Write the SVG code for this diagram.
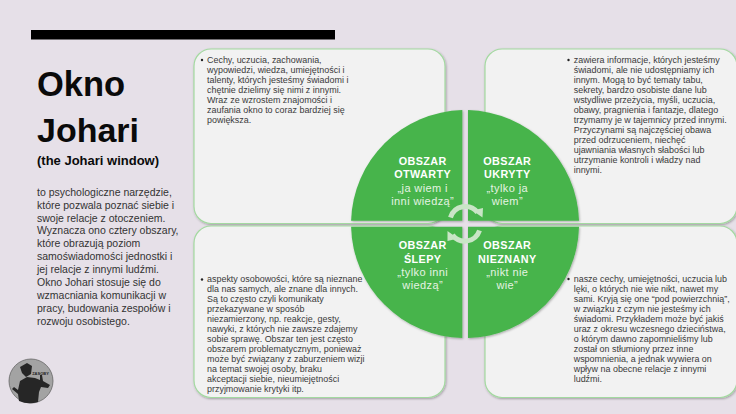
<svg xmlns="http://www.w3.org/2000/svg" width="736" height="414" viewBox="0 0 736 414">
<style>
text{font-family:"Liberation Sans",Arial,sans-serif}
.card{fill:#f2f2f2;stroke:#a3d9a0;stroke-width:1.2;filter:url(#s)}
.q{fill:#47b44b;filter:url(#s)}
.t{font-size:8.95px;fill:#3a3a3a}
.l{font-size:10.5px;fill:#333}
.h{font-weight:700;fill:#0a0a0a}
.b{font-size:10.8px;font-weight:700;fill:#fff;text-anchor:middle;letter-spacing:.4px}
.n{font-size:11px;fill:#e4f3e2;text-anchor:middle;letter-spacing:.4px}
.a{fill:none;stroke:#c9e5c6;stroke-width:5}
.ah{fill:#c9e5c6}
</style>
<defs><filter id="s" x="-5%" y="-5%" width="110%" height="110%"><feDropShadow dx="0.8" dy="1" stdDeviation="1" flood-color="#000" flood-opacity=".3"/></filter></defs>
<rect width="736" height="414" fill="#e6e0e8"/>
<rect x="31" y="30" width="304" height="9.500" fill="#000"/>
<g id="title">
<text class="h" x="37" y="96" font-size="34.500">Okno</text>
<text class="h" x="37" y="142" font-size="34">Johari</text>
<text class="h" x="37" y="165" font-size="13">(the Johari window)</text>
</g>
<g id="intro" class="l">
<text x="37" y="195.700">to psychologiczne narzędzie,</text>
<text x="37" y="208.600">które pozwala poznać siebie i</text>
<text x="37" y="221.500">swoje relacje z otoczeniem.</text>
<text x="37" y="234.400">Wyznacza ono cztery obszary,</text>
<text x="37" y="247.300">które obrazują poziom</text>
<text x="37" y="260.200">samoświadomości jednostki i</text>
<text x="37" y="273.100">jej relacje z innymi ludźmi.</text>
<text x="37" y="286">Okno Johari stosuje się do</text>
<text x="37" y="298.900">wzmacniania komunikacji w</text>
<text x="37" y="311.800">pracy, budowania zespołów i</text>
<text x="37" y="324.700">rozwoju osobistego.</text>
</g>
<g id="logo">
<circle cx="31" cy="381" r="22" fill="#a3a3a3" stroke="#666" stroke-width=".8"/>
<path d="M12 389 L14 387 L18 390 L20 381 L27 377 L35 378 L40 380 L40 375 L42 375 L43 381 L50 385 L48 388 L41 387 L39 392 L38 402 Q28 405 19 401 L18 394 Z" fill="#262626"/>
<path d="M20 367 L27 363 L32 366 L31 374 L26 377 L22 373Z" fill="#262626"/>
<text x="40.500" y="374.500" font-size="4" font-weight="700" fill="#222" text-anchor="middle">ZASOBY</text>
</g>
<g id="card-tl">
<rect class="card" x="194" y="49" width="251" height="174.500" rx="17"/>
<circle cx="202" cy="60" r="1.200" fill="#222"/>
<g class="t">
<text x="207" y="62.700">Cechy, uczucia, zachowania,</text>
<text x="207" y="72.700">wypowiedzi, wiedza, umiejętności i</text>
<text x="207" y="82.700">talenty, których jesteśmy świadomi i</text>
<text x="207" y="92.700">chętnie dzielimy się nimi z innymi.</text>
<text x="207" y="102.700">Wraz ze wzrostem znajomości i</text>
<text x="207" y="112.700">zaufania okno to coraz bardziej się</text>
<text x="207" y="122.700">powiększa.</text>
</g>
</g>
<g id="card-tr">
<rect class="card" x="485" y="49" width="252" height="174.500" rx="17"/>
<circle cx="568.500" cy="60" r="1.200" fill="#222"/>
<g class="t">
<text x="573.700" y="62.700">zawiera informacje, których jesteśmy</text>
<text x="573.700" y="72.700">świadomi, ale nie udostępniamy ich</text>
<text x="573.700" y="82.700">innym. Mogą to być tematy tabu,</text>
<text x="573.700" y="92.700">sekrety, bardzo osobiste dane lub</text>
<text x="573.700" y="102.700">wstydliwe przeżycia, myśli, uczucia,</text>
<text x="573.700" y="112.700">obawy, pragnienia i fantazje, dlatego</text>
<text x="573.700" y="122.700">trzymamy je w tajemnicy przed innymi.</text>
<text x="573.700" y="132.700">Przyczynami są najczęściej obawa</text>
<text x="573.700" y="142.700">przed odrzuceniem, niechęć</text>
<text x="573.700" y="152.700">ujawniania własnych słabości lub</text>
<text x="573.700" y="162.700">utrzymanie kontroli i władzy nad</text>
<text x="573.700" y="172.700">innymi.</text>
</g>
</g>
<g id="card-bl">
<rect class="card" x="194" y="226" width="251" height="171.500" rx="17"/>
<circle cx="202" cy="279.500" r="1.200" fill="#222"/>
<g class="t">
<text x="207" y="282.300">aspekty osobowości, które są nieznane</text>
<text x="207" y="292.300">dla nas samych, ale znane dla innych.</text>
<text x="207" y="302.300">Są to często czyli komunikaty</text>
<text x="207" y="312.300">przekazywane w sposób</text>
<text x="207" y="322.300">niezamierzony, np. reakcje, gesty,</text>
<text x="207" y="332.300">nawyki, z których nie zawsze zdajemy</text>
<text x="207" y="342.300">sobie sprawę. Obszar ten jest często</text>
<text x="207" y="352.300">obszarem problematycznym, ponieważ</text>
<text x="207" y="362.300">może być związany z zaburzeniem wizji</text>
<text x="207" y="372.300">na temat swojej osoby, braku</text>
<text x="207" y="382.300">akceptacji siebie, nieumiejętności</text>
<text x="207" y="392.300">przyjmowanie krytyki itp.</text>
</g>
</g>
<g id="card-br">
<rect class="card" x="485" y="226" width="252" height="171.500" rx="17"/>
<circle cx="568.500" cy="279" r="1.200" fill="#222"/>
<g class="t">
<text x="573.700" y="282.300">nasze cechy, umiejętności, uczucia lub</text>
<text x="573.700" y="292.300">lęki, o których nie wie nikt, nawet my</text>
<text x="573.700" y="302.300">sami. Kryją się one “pod powierzchnią”,</text>
<text x="573.700" y="312.300">w związku z czym nie jesteśmy ich</text>
<text x="573.700" y="322.300">świadomi. Przykładem może być jakiś</text>
<text x="573.700" y="332.300">uraz z okresu wczesnego dzieciństwa,</text>
<text x="573.700" y="342.300">o którym dawno zapomnieliśmy lub</text>
<text x="573.700" y="352.300">został on stłumiony przez inne</text>
<text x="573.700" y="362.300">wspomnienia, a jednak wywiera on</text>
<text x="573.700" y="372.300">wpływ na obecne relacje z innymi</text>
<text x="573.700" y="382.300">ludźmi.</text>
</g>
</g>
<g id="q-tl"><path class="q" d="M462.300 220.700V110.100A114 114 0 0 0 351.100 220.700Z"/>
<text class="b" x="422.700" y="165">OBSZAR</text><text class="b" x="422.700" y="178">OTWARTY</text>
<text class="n" x="422.700" y="191.500">„ja wiem i</text><text class="n" x="422.700" y="204.500">inni wiedzą”</text></g>
<g id="q-tr"><path class="q" d="M468 220.700V110.100A114 114 0 0 1 579 220.700Z"/>
<text class="b" x="507.300" y="165">OBSZAR</text><text class="b" x="507.300" y="178">UKRYTY</text>
<text class="n" x="507.300" y="191.500">„tylko ja</text><text class="n" x="507.300" y="204.500">wiem”</text></g>
<g id="q-bl"><path class="q" d="M462.300 226.700V338A114 114 0 0 1 351.100 226.700Z"/>
<text class="b" x="422.700" y="249.300">OBSZAR</text><text class="b" x="422.700" y="262.500">ŚLEPY</text>
<text class="n" x="422.700" y="275.500">„tylko inni</text><text class="n" x="422.700" y="288.500">wiedzą”</text></g>
<g id="q-br"><path class="q" d="M468 226.700V338A114 114 0 0 0 579 226.700Z"/>
<text class="b" x="507.300" y="249.300">OBSZAR</text><text class="b" x="507.300" y="262.500">NIEZNANY</text>
<text class="n" x="507.300" y="275.500">„nikt nie</text><text class="n" x="507.300" y="288.500">wie”</text></g>
<g id="connectors">
<path class="a" d="M450.500 217.500A15.500 15.500 0 0 1 477.500 212.500"/>
<polygon class="ah" points="472.500,210.500 483,208 482.500,217.500"/>
<path class="a" d="M479.500 230.500A15.500 15.500 0 0 1 452.500 235"/>
<polygon class="ah" points="458,238.500 447.500,231 447.500,241"/>
</g>
</svg>
